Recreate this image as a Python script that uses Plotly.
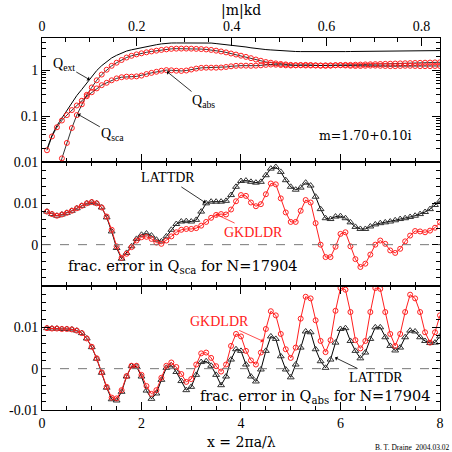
import plotly.graph_objects as go

# size parameter x = 2*pi*a/lambda, sampled every 0.1
x = [0.1, 0.2, 0.3, 0.4, 0.5, 0.6, 0.7, 0.8, 0.9, 1.0,
     1.1, 1.2, 1.3, 1.4, 1.5, 1.6, 1.7, 1.8, 1.9, 2.0,
     2.1, 2.2, 2.3, 2.4, 2.5, 2.6, 2.7, 2.8, 2.9, 3.0,
     3.1, 3.2, 3.3, 3.4, 3.5, 3.6, 3.7, 3.8, 3.9, 4.0,
     4.1, 4.2, 4.3, 4.4, 4.5, 4.6, 4.7, 4.8, 4.9, 5.0,
     5.1, 5.2, 5.3, 5.4, 5.5, 5.6, 5.7, 5.8, 5.9, 6.0,
     6.1, 6.2, 6.3, 6.4, 6.5, 6.6, 6.7, 6.8, 6.9, 7.0,
     7.1, 7.2, 7.3, 7.4, 7.5, 7.6, 7.7, 7.8, 7.9, 8.0]

# top panel: efficiency factors
q_ext = [0.019, 0.038, 0.062, 0.092, 0.135, 0.20, 0.28, 0.38, 0.52, 0.72,
         0.98, 1.25, 1.55, 1.84, 2.10, 2.36, 2.60, 2.77, 2.93, 3.08,
         3.26, 3.42, 3.57, 3.72, 3.83, 3.89, 3.90, 3.90, 3.92, 3.96,
         3.98, 3.99, 3.95, 3.88, 3.78, 3.69, 3.60, 3.51, 3.42, 3.31,
         3.19, 3.06, 2.95, 2.87, 2.80, 2.75, 2.69, 2.64, 2.60, 2.55,
         2.54, 2.53, 2.52, 2.51, 2.50, 2.50, 2.50, 2.51, 2.52, 2.52,
         2.53, 2.54, 2.55, 2.56, 2.57, 2.58, 2.59, 2.60, 2.60, 2.61,
         2.61, 2.62, 2.62, 2.63, 2.63, 2.64, 2.64, 2.65, 2.65, 2.66]

q_sca = [0.0002, 0.0012, 0.0045, 0.012, 0.026, 0.055, 0.105, 0.18, 0.29, 0.42,
         0.60, 0.80, 1.02, 1.24, 1.45, 1.66, 1.88, 2.05, 2.20, 2.32,
         2.44, 2.55, 2.65, 2.75, 2.83, 2.90, 2.93, 2.94, 2.94, 2.93,
         2.90, 2.87, 2.82, 2.75, 2.65, 2.55, 2.43, 2.30, 2.18, 2.06,
         1.94, 1.82, 1.70, 1.60, 1.50, 1.45, 1.40, 1.36, 1.33, 1.30,
         1.28, 1.27, 1.26, 1.26, 1.26, 1.26, 1.27, 1.27, 1.28, 1.29,
         1.30, 1.30, 1.31, 1.32, 1.33, 1.34, 1.35, 1.36, 1.37, 1.38,
         1.39, 1.40, 1.41, 1.42, 1.43, 1.44, 1.45, 1.46, 1.47, 1.48]

q_abs = [0.018, 0.036, 0.057, 0.080, 0.105, 0.135, 0.17, 0.215, 0.27, 0.33,
         0.40, 0.47, 0.53, 0.60, 0.66, 0.70, 0.72, 0.72, 0.73, 0.76,
         0.82, 0.87, 0.92, 0.97, 1.00, 0.99, 0.97, 0.96, 0.98, 1.03,
         1.08, 1.12, 1.13, 1.13, 1.13, 1.14, 1.17, 1.21, 1.24, 1.25,
         1.25, 1.24, 1.25, 1.27, 1.30, 1.32, 1.31, 1.29, 1.27, 1.26,
         1.27, 1.29, 1.30, 1.29, 1.27, 1.25, 1.24, 1.25, 1.27, 1.27,
         1.26, 1.24, 1.23, 1.23, 1.24, 1.25, 1.25, 1.24, 1.23, 1.22,
         1.22, 1.23, 1.24, 1.24, 1.23, 1.22, 1.22, 1.22, 1.23, 1.23]

# middle panel: fractional error in Q_sca
sca_lattdr = [0.0080, 0.0074, 0.0070, 0.0073, 0.0077, 0.0082, 0.0088, 0.0094, 0.0100, 0.0103,
              0.0100, 0.0090, 0.0066, 0.0032, -0.0008, -0.0034, -0.0020, -0.0004, 0.0014, 0.0024,
              0.0027, 0.0022, 0.0012, 0.0008, 0.0020, 0.0036, 0.0050, 0.0056, 0.0057, 0.0056,
              0.0060, 0.0080, 0.0100, 0.0104, 0.0104, 0.0104, 0.0106, 0.0120, 0.0140, 0.0154,
              0.0155, 0.0152, 0.0150, 0.0152, 0.0168, 0.0184, 0.0188, 0.0176, 0.0156, 0.0140,
              0.0133, 0.0138, 0.0150, 0.0143, 0.0116, 0.0086, 0.0064, 0.0062, 0.0068, 0.0069,
              0.0064, 0.0054, 0.0043, 0.0038, 0.0038, 0.0044, 0.0049, 0.0052, 0.0054, 0.0056,
              0.0059, 0.0062, 0.0064, 0.0067, 0.0070, 0.0074, 0.0079, 0.0086, 0.0096, 0.0106]

sca_gkdldr = [0.0080, 0.0074, 0.0070, 0.0073, 0.0077, 0.0082, 0.0088, 0.0094, 0.0100, 0.0103,
              0.0100, 0.0090, 0.0068, 0.0036, -0.0004, -0.0032, -0.0022, -0.0006, 0.0010, 0.0018,
              0.0019, 0.0014, 0.0005, 0.0002, 0.0010, 0.0020, 0.0030, 0.0036, 0.0038, 0.0038,
              0.0040, 0.0046, 0.0055, 0.0065, 0.0072, 0.0074, 0.0073, 0.0085, 0.0105, 0.0120,
              0.0118, 0.0102, 0.0093, 0.0098, 0.0122, 0.0148, 0.0146, 0.0112, 0.0078, 0.0055,
              0.0055, 0.0082, 0.0108, 0.0102, 0.0052, 0.0000, -0.0030, -0.0030, -0.0005, 0.0026,
              0.0030, -0.0004, -0.0035, -0.0054, -0.0046, -0.0024, 0.0000, 0.0010, 0.0002, -0.0014,
              -0.0020, -0.0010, 0.0008, 0.0022, 0.0033, 0.0032, 0.0030, 0.0034, 0.0041, 0.0054]

# bottom panel: fractional error in Q_abs
abs_lattdr = [0.0098, 0.0097, 0.0097, 0.0096, 0.0096, 0.0095, 0.0092, 0.0086, 0.0073, 0.0052,
              0.0024, -0.0010, -0.0046, -0.0074, -0.0077, -0.0056, -0.0019, 0.0006, 0.0005, -0.0019,
              -0.0053, -0.0073, -0.0060, -0.0027, 0.0002, 0.0008, -0.0008, -0.0030, -0.0052, -0.0044,
              -0.0015, 0.0016, 0.0018, 0.0007, -0.0015, -0.0040, -0.0019, 0.0022, 0.0047, 0.0043,
              0.0010, -0.0019, -0.0031, -0.0002, 0.0043, 0.0078, 0.0072, 0.0030, -0.0002, -0.0021,
              0.0010, 0.0051, 0.0090, 0.0088, 0.0047, 0.0018, 0.0002, 0.0022, 0.0063, 0.0096,
              0.0098, 0.0067, 0.0043, 0.0025, 0.0039, 0.0072, 0.0100, 0.0100, 0.0076, 0.0055,
              0.0044, 0.0051, 0.0076, 0.0092, 0.0090, 0.0076, 0.0067, 0.0062, 0.0063, 0.0078]

abs_gkdldr = [0.0098, 0.0097, 0.0097, 0.0096, 0.0096, 0.0095, 0.0092, 0.0086, 0.0073, 0.0053,
              0.0025, -0.0009, -0.0044, -0.0070, -0.0072, -0.0052, -0.0018, 0.0007, 0.0007, -0.0015,
              -0.0042, -0.0061, -0.0052, -0.0022, 0.0007, 0.0015, 0.0004, -0.0013, -0.0032, -0.0025,
              0.0010, 0.0037, 0.0039, 0.0026, 0.0006, -0.0007, 0.0010, 0.0055, 0.0084, 0.0078,
              0.0043, 0.0020, 0.0010, 0.0039, 0.0096, 0.0139, 0.0129, 0.0084, 0.0047, 0.0026,
              0.0051, 0.0121, 0.0174, 0.0170, 0.0117, 0.0067, 0.0040, 0.0069, 0.0140, 0.0195,
              0.0191, 0.0137, 0.0069, 0.0049, 0.0067, 0.0137, 0.0195, 0.0193, 0.0137, 0.0084,
              0.0055, 0.0084, 0.0137, 0.0179, 0.0170, 0.0137, 0.0088, 0.0063, 0.0088, 0.0129]

# |m|kd at x = 8 (m = 1.70+0.10i, N = 17904)
mkd_max = 0.839
mkd_ticks = [0, 0.2, 0.4, 0.6, 0.8]

RED = "#ff2020"
GREY = "#333333"
FONT = "Liberation Serif"
WIDE = "DejaVu Serif"

fig = go.Figure()

# -------------------
#  top: Q_ext, Q_sca, Q_abs
# -------------------
fig.add_trace(go.Scatter(x=x, y=q_ext, mode="lines", xaxis="x3", yaxis="y3",
                         line=dict(color="black", width=1), hoverinfo="skip"))
for q in (q_sca, q_abs):
    fig.add_trace(go.Scatter(
        x=x, y=q, mode="lines+markers", xaxis="x3", yaxis="y3",
        line=dict(color="black", width=0.8),
        marker=dict(symbol="circle-open", size=5, color=RED, line=dict(width=1))
    ))

# invisible trace so that the |m|kd axis on top gets drawn
fig.add_trace(go.Scatter(x=[0, mkd_max], y=[q_ext[0], q_ext[-1]], mode="markers",
                         xaxis="x4", yaxis="y3", marker=dict(opacity=0),
                         hoverinfo="skip"))

# -------------------
#  middle and bottom: fractional errors
# -------------------
for xax, yax, latt, gk in (("x2", "y2", sca_lattdr, sca_gkdldr),
                           ("x", "y", abs_lattdr, abs_gkdldr)):
    fig.add_trace(go.Scatter(
        x=x, y=latt, mode="lines+markers", xaxis=xax, yaxis=yax,
        line=dict(color="black", width=1),
        marker=dict(symbol="triangle-up-open", size=6, color=GREY, line=dict(width=1))
    ))
    fig.add_trace(go.Scatter(
        x=x, y=gk, mode="lines+markers", xaxis=xax, yaxis=yax,
        line=dict(color=RED, width=1),
        marker=dict(symbol="circle-open", size=5, color=RED, line=dict(width=1))
    ))

tick_style = dict(
    ticks="inside", ticklen=8, tickwidth=1, tickcolor="black",
    showline=True, linecolor="black", linewidth=1,
    showgrid=False, zeroline=False,
    tickfont=dict(family=FONT, size=14, color="black"),
)

x_common = dict(
    range=[0, 8.0005], tickvals=[0, 2, 4, 6, 8],
    minor=dict(dtick=0.5, tick0=0, ticks="inside", ticklen=4, tickcolor="black"),
    **tick_style
)

err_minor = dict(dtick=0.002, tick0=0, ticks="inside", ticklen=4, tickcolor="black")

fig.update_layout(
    width=452, height=452, autosize=False,
    margin=dict(l=42, r=9, t=38, b=42),
    paper_bgcolor="white", plot_bgcolor="white",
    showlegend=False,
    font=dict(family=FONT, size=14, color="black"),
    xaxis=dict(anchor="y", mirror="ticks", **x_common),
    xaxis2=dict(anchor="y2", matches="x", mirror="ticks",
                showticklabels=False, **x_common),
    xaxis3=dict(anchor="y3", matches="x", showticklabels=False, **x_common),
    xaxis4=dict(anchor="y3", overlaying="x3", side="top",
                range=[0, mkd_max], tickvals=mkd_ticks,
                ticktext=[f"{t:g}" for t in mkd_ticks],
                minor=dict(dtick=0.05, tick0=0, ticks="inside", ticklen=4,
                           tickcolor="black"),
                **tick_style),
    yaxis=dict(domain=[0, 1/3], anchor="x", range=[-0.01, 0.02],
               tickvals=[-0.01, 0, 0.01], ticktext=["-0.01", "0", "0.01"],
               mirror="ticks", minor=err_minor, **tick_style),
    yaxis2=dict(domain=[1/3, 2/3], anchor="x2", range=[-0.01, 0.02],
                tickvals=[0, 0.01], ticktext=["0", "0.01"],
                mirror="ticks", minor=err_minor, **tick_style),
    yaxis3=dict(domain=[2/3, 1], anchor="x3", type="log", range=[-2, 0.699],
                tickvals=[0.01, 0.1, 1], ticktext=["0.01", "0.1", "1"],
                mirror="ticks",
                minor=dict(tickmode="array",
                           tickvals=[0.02, 0.03, 0.04, 0.05, 0.06, 0.07, 0.08, 0.09,
                                     0.2, 0.3, 0.4, 0.5, 0.6, 0.7, 0.8, 0.9,
                                     2, 3, 4, 5],
                           ticks="inside", ticklen=4, tickcolor="black"),
                **tick_style),
)

# dashed zero lines
for yref in ("y", "y2"):
    fig.add_shape(type="line", xref="paper", x0=0, x1=1, yref=yref, y0=0, y1=0,
                  line=dict(color="#777777", width=1, dash="dash"))

arrow = dict(showarrow=True, arrowhead=1, arrowsize=1, arrowwidth=0.8,
             arrowcolor="black", font=dict(family=FONT, size=14, color="black"))
red_arrow = dict(arrow, arrowcolor=RED, font=dict(family=FONT, size=14, color=RED))

# top panel labels
fig.add_annotation(x=0.96, y=-0.21, xref="x3", yref="y3", text="Q<sub>ext</sub>",
                   ax=-26, ay=-15, **arrow)
fig.add_annotation(x=0.72, y=-0.96, xref="x3", yref="y3", text="Q<sub>sca</sub>",
                   ax=35, ay=20, **arrow)
fig.add_annotation(x=2.51, y=-0.03, xref="x3", yref="y3", text="Q<sub>abs</sub>",
                   ax=37, ay=30, **arrow)
fig.add_annotation(x=6.5, y=-1.43, xref="x3", yref="y3", text="m=1.70+0.10i",
                   showarrow=False, font=dict(family=WIDE, size=12.5))

# middle panel labels
fig.add_annotation(x=3.29, y=0.0101, xref="x2", yref="y2", text="LATTDR",
                   ax=-38, ay=-25, **arrow)
fig.add_annotation(x=3.49, y=0.0074, xref="x2", yref="y2", text="GKDLDR",
                   ax=38, ay=18, **red_arrow)
fig.add_annotation(x=2.83, y=-0.0055, xref="x2", yref="y2",
                   text="frac. error in Q<sub>sca</sub> for N=17904",
                   showarrow=False, font=dict(family=WIDE, size=14.5))

# bottom panel labels
fig.add_annotation(x=4.45, y=0.0066, xref="x", yref="y", text="GKDLDR",
                   ax=-44, ay=-20, **red_arrow)
fig.add_annotation(x=5.89, y=0.0027, xref="x", yref="y", text="LATTDR",
                   ax=41, ay=20, **arrow)
fig.add_annotation(x=5.49, y=-0.0068, xref="x", yref="y",
                   text="frac. error in Q<sub>abs</sub> for N=17904",
                   showarrow=False, font=dict(family=WIDE, size=14.5))

# axis titles and credit line
fig.add_annotation(x=0.5, y=-0.086, xref="paper", yref="paper",
                   yanchor="middle", showarrow=False, text="x = 2πa/λ",
                   font=dict(family=WIDE, size=14))
fig.add_annotation(x=0.5, y=1.074, xref="paper", yref="paper",
                   yanchor="middle", showarrow=False, text="|m|kd",
                   font=dict(family=WIDE, size=14))
fig.add_annotation(x=1.03, y=-0.1, xref="paper", yref="paper",
                   xanchor="right", yanchor="middle", showarrow=False,
                   text="B. T. Draine  2004.03.02",
                   font=dict(family=FONT, size=7.5))

# page body has a default margin; drop it so the figure sits at the corner
fig.write_html("out.html", config={"displayModeBar": False},
               post_script="document.body.style.margin='0';")
